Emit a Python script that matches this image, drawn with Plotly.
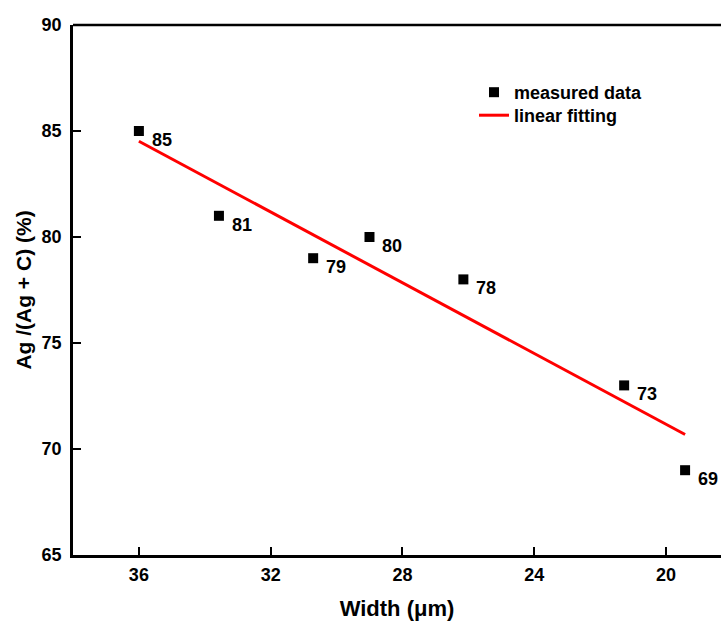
import numpy as np
import plotly.graph_objects as go

# Data
width_um = [36.0, 33.57, 30.71, 29.0, 26.15, 21.27, 19.42]
ag_ratio = [85, 81, 79, 80, 78, 73, 69]
point_labels = ["85", "81", "79", "80", "78", "73", "69"]

x_ticks = [36, 32, 28, 24, 20]
y_ticks = [65, 70, 75, 80, 85, 90]

# Linear fit of the measured data
slope, intercept = np.polyfit(width_um, ag_ratio, 1)
fit_x = [max(width_um), min(width_um)]
fit_y = [slope * v + intercept for v in fit_x]

FONT = "Liberation Sans, Arial, sans-serif"
BOLD18 = dict(family=FONT, size=18, color="black", weight="bold")

# layout geometry (pixels)
ML, MT, MB = 73, 25, 67
W, H = 721, 622
PW = W - ML
PH = H - MT - MB

fig = go.Figure()
fig.add_trace(go.Scatter(
    x=width_um, y=ag_ratio, mode="markers", name="measured data",
    marker=dict(symbol="square", size=10, color="black"),
    legend="legend", cliponaxis=False,
))
fig.add_trace(go.Scatter(
    x=fit_x, y=fit_y, mode="lines", name="linear fitting",
    line=dict(color="#ff0000", width=3),
    legend="legend2",
))

for xv, yv, lab in zip(width_um, ag_ratio, point_labels):
    fig.add_annotation(
        x=xv, y=yv, text=lab, showarrow=False,
        xanchor="left", yanchor="middle", xshift=11, yshift=-9,
        font=BOLD18,
    )

# top frame line of the plot box (no right spine in the cropped reference)
fig.add_shape(
    type="line", xref="paper", yref="paper", x0=0, x1=1, y0=1, y1=1,
    line=dict(color="black", width=2.5), layer="above",
)

leg_x = (474 - ML) / PW
fig.update_layout(
    width=W, height=H,
    margin=dict(l=ML, r=0, t=MT, b=MB),
    paper_bgcolor="white", plot_bgcolor="white",
    font=BOLD18,
    showlegend=True,
    legend=dict(
        x=leg_x, y=1 - (74 - MT) / PH, xanchor="left", yanchor="top",
        bgcolor="rgba(0,0,0,0)", borderwidth=0, font=BOLD18,
    ),
    legend2=dict(
        x=leg_x, y=1 - (97 - MT) / PH, xanchor="left", yanchor="top",
        bgcolor="rgba(0,0,0,0)", borderwidth=0, font=BOLD18,
    ),
)

fig.update_xaxes(
    range=[38.0, 18.33], tickvals=x_ticks, ticktext=[str(t) for t in x_ticks],
    showgrid=False, zeroline=False,
    showline=True, linecolor="black", linewidth=2.5, mirror=False,
    ticks="inside", ticklen=8, tickwidth=2, tickcolor="black",
    tickfont=BOLD18, ticklabelstandoff=2,
    title=dict(text="Width (μm)", standoff=17,
               font=dict(family=FONT, size=22, color="black", weight="bold")),
)
fig.update_yaxes(
    range=[65, 90], tickvals=y_ticks, ticktext=[str(t) for t in y_ticks],
    showgrid=False, zeroline=False,
    showline=True, linecolor="black", linewidth=2.5, mirror=False,
    ticks="inside", ticklen=8, tickwidth=2, tickcolor="black",
    tickfont=BOLD18, ticklabelstandoff=5,
    title=dict(text="Ag /(Ag + C) (%)", standoff=5,
               font=dict(family=FONT, size=21, color="black", weight="bold")),
)

fig.write_html(
    "out.html",
    config={"displayModeBar": False},
    post_script="document.body.style.margin='0';document.body.style.overflow='hidden';",
)
